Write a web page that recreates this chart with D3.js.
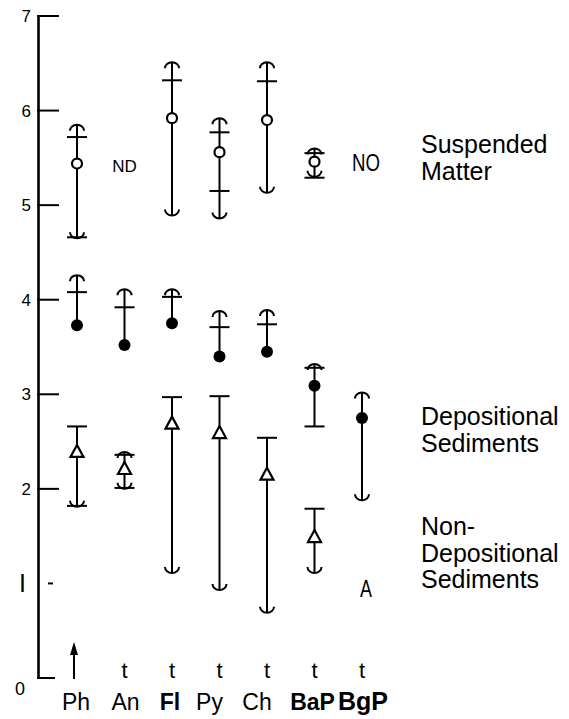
<!DOCTYPE html>
<html>
<head>
<meta charset="utf-8">
<script src="https://cdn.jsdelivr.net/npm/d3@7"></script>
<style>
  body { margin: 0; background: #fff; }
  svg { display: block; }
  text { font-family: "Liberation Sans", Arial, sans-serif; fill: #000; }
</style>
</head>
<body>
<div id="chart"></div>
<script>
const categories = ["Ph", "An", "Fl", "Py", "Ch", "BaP", "BgP"]
const boldCats = ["Fl", "BaP", "BgP"]
const yTicks = [0, 1, 2, 3, 4, 5, 6, 7]
const yTickLabels = ["0", "I", "2", "3", "4", "5", "6", "7"]
const bottomMarks = ["arrow", "t", "t", "t", "t", "t", "t"]

// suspended matter (open circles)
const suspMean = [5.44, null, 5.92, 5.56, 5.90, 5.46, null]
const suspCaps = [
  ["Ph", 5.85, "dome"], ["Ph", 5.72, "bar"], ["Ph", 4.65, "cup"], ["Ph", 4.66, "bar"],
  ["Fl", 6.51, "dome"], ["Fl", 6.32, "bar"], ["Fl", 4.89, "cup"],
  ["Py", 5.92, "dome"], ["Py", 5.77, "bar"], ["Py", 5.15, "bar"], ["Py", 4.86, "cup"],
  ["Ch", 6.51, "dome"], ["Ch", 6.31, "bar"], ["Ch", 5.13, "cup"],
  ["BaP", 5.60, "dome"], ["BaP", 5.55, "bar"], ["BaP", 5.29, "bar"], ["BaP", 5.30, "cup"]
]
const suspNotes = [["An", "ND", 5.35], ["BgP", "NO", 5.36]]

// depositional sediments (filled circles)
const depMean = [3.73, 3.52, 3.75, 3.40, 3.45, 3.09, 2.75]
const depCaps = [
  ["Ph", 4.26, "dome"], ["Ph", 4.08, "bar"],
  ["An", 4.11, "dome"], ["An", 3.92, "bar"],
  ["Fl", 4.11, "dome"], ["Fl", 4.03, "bar"],
  ["Py", 3.88, "dome"], ["Py", 3.71, "bar"],
  ["Ch", 3.89, "dome"], ["Ch", 3.74, "bar"],
  ["BaP", 3.32, "dome"], ["BaP", 3.28, "bar"], ["BaP", 2.66, "bar"],
  ["BgP", 3.02, "dome"], ["BgP", 1.88, "cup"]
]

// non-depositional sediments (open triangles)
const ndMean = [2.39, 2.21, 2.69, 2.59, 2.15, 1.49, null]
const ndCaps = [
  ["Ph", 2.66, "bar"], ["Ph", 1.81, "cup"], ["Ph", 1.82, "bar"],
  ["An", 2.39, "dome"], ["An", 2.36, "bar"], ["An", 2.00, "cup"], ["An", 2.01, "bar"],
  ["Fl", 2.97, "bar"], ["Fl", 1.11, "cup"],
  ["Py", 2.98, "bar"], ["Py", 0.93, "cup"],
  ["Ch", 2.54, "bar"], ["Ch", 0.69, "cup"],
  ["BaP", 1.79, "bar"], ["BaP", 1.11, "cup"]
]
const ndNotes = [["BgP", "A", 0.86]]

const groupLabels = [
  { lines: ["Suspended", "Matter"], level: 5.55 },
  { lines: ["Depositional", "Sediments"], level: 2.675 },
  { lines: ["Non-", "Depositional", "Sediments"], level: 1.51 }
]

const width = 569, height = 719
const axisX = 38

const svg = d3.select("#chart").append("svg")
  .attr("width", width)
  .attr("height", height)

const x = d3.scalePoint().domain(categories).range([77, 362])
const y = d3.scaleLinear().domain([0, 7]).range([678, 16])

// y axis: labels from d3.axisLeft, tick lines drawn inward
const yAxis = d3.axisLeft(y)
  .tickValues(yTicks)
  .tickSize(0)
  .tickPadding(8)
  .tickFormat((d, i) => yTickLabels[i])

const ax = svg.append("g")
  .attr("transform", `translate(${axisX},0)`)
  .call(yAxis)
ax.select(".domain").attr("stroke", "#000").attr("stroke-width", 2.6)
ax.selectAll(".tick line").remove()
ax.selectAll(".tick text")
  .attr("x", -7)
  .attr("font-size", 17)
ax.selectAll(".tick").filter(d => d === 1).select("text").attr("x", -12).attr("font-size", 25)
ax.selectAll(".tick").filter(d => d === 0).select("text").attr("x", -13).attr("dy", "0.9em").attr("font-size", 18)

svg.selectAll(".ytick")
  .data(yTicks)
  .enter().append("line")
  .attr("class", "ytick")
  .attr("x1", d => d === 1 ? axisX + 10 : axisX - 1)
  .attr("x2", d => d === 1 ? axisX + 15 : d === 0 ? axisX + 17 : axisX + 21)
  .attr("y1", d => y(d)).attr("y2", d => y(d))
  .attr("stroke", "#000").attr("stroke-width", 2)

// one error bar with its end marks
function drawBars(mean, caps) {
  categories.forEach((c, i) => {
    const mine = caps.filter(k => k[0] === c)
    if (!mine.length) return
    const vals = mine.map(k => k[1])
    if (mean[i] != null) vals.push(mean[i])
    const cx = x(c)
    svg.append("line")
      .attr("x1", cx).attr("x2", cx)
      .attr("y1", y(d3.max(vals))).attr("y2", y(d3.min(vals)))
      .attr("stroke", "#000").attr("stroke-width", 2)
    mine.forEach(k => {
      const cy = y(k[1])
      if (k[2] === "bar") {
        svg.append("line")
          .attr("x1", cx - 10).attr("x2", cx + 10)
          .attr("y1", cy).attr("y2", cy)
          .attr("stroke", "#000").attr("stroke-width", 2)
      } else {
        const up = k[2] === "dome"
        const yy = up ? cy + 6 : cy - 6
        svg.append("path")
          .attr("d", `M${cx - 7},${yy} A7,6 0 0 ${up ? 1 : 0} ${cx + 7},${yy}`)
          .attr("fill", "none").attr("stroke", "#000").attr("stroke-width", 2)
      }
    })
  })
}

drawBars(suspMean, suspCaps)
drawBars(depMean, depCaps)
drawBars(ndMean, ndCaps)

// markers
svg.selectAll(".susp")
  .data(categories.filter((c, i) => suspMean[i] != null))
  .enter().append("circle")
  .attr("cx", c => x(c))
  .attr("cy", c => y(suspMean[categories.indexOf(c)]))
  .attr("r", 5)
  .attr("fill", "#fff").attr("stroke", "#000").attr("stroke-width", 2.2)

svg.selectAll(".dep")
  .data(categories.filter((c, i) => depMean[i] != null))
  .enter().append("circle")
  .attr("cx", c => x(c))
  .attr("cy", c => y(depMean[categories.indexOf(c)]))
  .attr("r", 6)
  .attr("fill", "#000")

svg.selectAll(".nd")
  .data(categories.filter((c, i) => ndMean[i] != null))
  .enter().append("path")
  .attr("d", c => {
    const cx = x(c), cy = y(ndMean[categories.indexOf(c)])
    return `M${cx},${cy - 7} L${cx + 6.5},${cy + 5} L${cx - 6.5},${cy + 5} Z`
  })
  .attr("fill", "#fff").attr("stroke", "#000").attr("stroke-width", 2.2)
  .attr("stroke-linejoin", "miter")

// ND / NO / A notes
suspNotes.concat(ndNotes).forEach(n => {
  const t = svg.append("text")
    .attr("x", x(n[0]) + (n[1] === "ND" ? 0 : 4))
    .attr("y", y(n[2]))
    .attr("text-anchor", "middle")
    .text(n[1])
  if (n[1] === "ND") {
    t.attr("font-size", 17)
  } else {
    t.attr("font-size", 24)
      .attr("textLength", n[1] === "NO" ? 28 : 12)
      .attr("lengthAdjust", "spacingAndGlyphs")
  }
})

// group labels on the right
groupLabels.forEach(g => {
  const t = svg.append("text")
    .attr("x", 421)
    .attr("y", y(g.level))
    .attr("font-size", 25)
  g.lines.forEach((l, j) => {
    t.append("tspan").attr("x", 421).attr("dy", j ? 26.5 : 0).text(l)
  })
})

// trace marks / arrow under each column
categories.forEach((c, i) => {
  const cx = x(c)
  if (bottomMarks[i] === "arrow") {
    svg.append("line")
      .attr("x1", cx - 3).attr("x2", cx - 3)
      .attr("y1", y(0) + 1).attr("y2", y(0) - 28)
      .attr("stroke", "#000").attr("stroke-width", 2)
    svg.append("path")
      .attr("d", `M${cx - 3},${y(0) - 36} L${cx + 1},${y(0) - 23} L${cx - 7},${y(0) - 23} Z`)
      .attr("fill", "#000")
  } else {
    svg.append("text")
      .attr("x", cx).attr("y", y(0))
      .attr("text-anchor", "middle")
      .attr("font-size", 22)
      .text(bottomMarks[i])
  }
})

// category labels
const labelNudge = { Ph: -1, An: 1, Fl: -2, Py: -10, Ch: -10, BaP: -2, BgP: 1 }
svg.selectAll(".cat")
  .data(categories)
  .enter().append("text")
  .attr("x", c => x(c) + labelNudge[c])
  .attr("y", 710)
  .attr("text-anchor", "middle")
  .attr("font-size", c => c === "BgP" ? 25 : 23)
  .attr("font-weight", c => boldCats.includes(c) ? "bold" : "normal")
  .text(c => c)
</script>
</body>
</html>
